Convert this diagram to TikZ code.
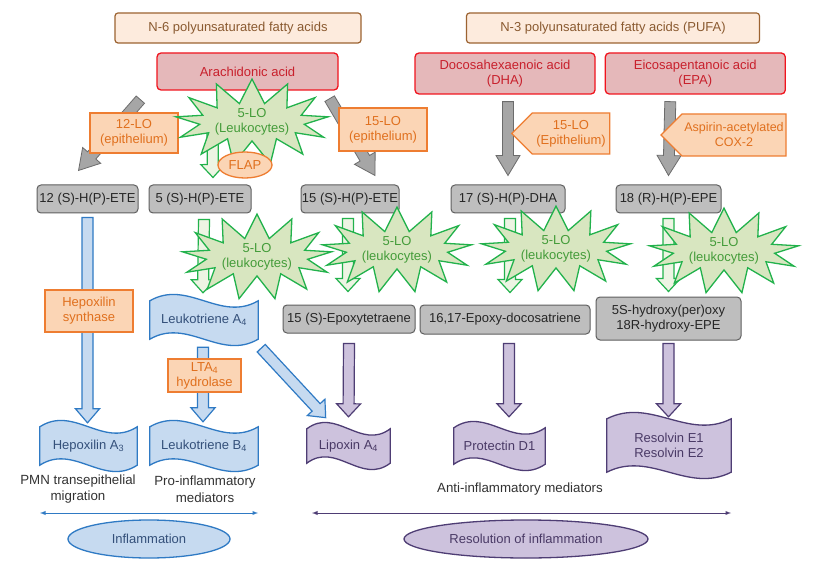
\documentclass[tikz,border=0pt]{standalone}
\usepackage{fontspec}
\setmainfont{Liberation Sans}
\usepackage{tikz}
\usetikzlibrary{positioning, shapes.geometric, shapes.symbols, calc, backgrounds, arrows}
\definecolor{pufaline}{HTML}{9C6331}
\definecolor{pufafill}{HTML}{FDEBDD}
\definecolor{pufatext}{HTML}{8A5A30}
\definecolor{acidline}{HTML}{F0141E}
\definecolor{acidfill}{HTML}{E5B8BA}
\definecolor{acidtext}{HTML}{C8202C}
\definecolor{enzline}{HTML}{EE7D31}
\definecolor{enzfill}{HTML}{FBD5B5}
\definecolor{enztext}{HTML}{E0701E}
\definecolor{loline}{HTML}{22B24C}
\definecolor{lofill}{HTML}{D8E6C0}
\definecolor{lotext}{HTML}{449C3A}
\definecolor{metline}{HTML}{5F5F5F}
\definecolor{metfill}{HTML}{BEBEBE}
\definecolor{proline}{HTML}{2F7AC4}
\definecolor{profill}{HTML}{C6DAF0}
\definecolor{protext}{HTML}{34507A}
\definecolor{resline}{HTML}{4E3D74}
\definecolor{resfill}{HTML}{CDC2DD}
\definecolor{restext}{HTML}{4A3A66}
\definecolor{arrowgray}{HTML}{A6A6A6}
\tikzstyle{pufa}      = [rectangle, rounded corners=3pt, minimum height=30pt, inner sep=0pt, draw=pufaline, fill=pufafill, text=pufatext, line width=1.2pt]
\tikzstyle{acid}      = [rectangle, rounded corners=4pt, inner sep=0pt, align=center, draw=acidline, fill=acidfill, text=acidtext, line width=1.3pt]
\tikzstyle{metab}     = [rectangle, rounded corners=4pt, minimum height=28pt, inner sep=0pt, align=center, draw=metline, fill=metfill, text=black!85, line width=1pt]
\tikzstyle{enzyme}    = [rectangle, inner sep=0pt, align=center, draw=enzline, fill=enzfill, text=enztext, line width=1.3pt]
\tikzstyle{enzsignal} = [signal, signal to=west, signal from=nowhere, inner sep=0pt, align=center, draw=enzline, fill=enzfill, text=enztext, line width=1.3pt]
\tikzstyle{flapnode}  = [ellipse, minimum width=54pt, minimum height=26pt, inner sep=0pt, draw=enzline, fill=enzfill, text=enztext, line width=1.3pt]
\tikzstyle{burst}     = [starburst, starburst points=13, starburst point height=24pt, random starburst=0, minimum width=150pt, minimum height=82pt, inner sep=0pt, align=center, draw=loline, fill=lofill, text=lotext, line width=1.3pt]
\tikzstyle{flagtext}  = [rectangle, inner sep=0pt, align=center]
\tikzstyle{proflag}   = [draw=proline, fill=profill, line width=1.3pt]
\tikzstyle{resflag}   = [draw=resline, fill=resfill, line width=1.3pt]
\tikzstyle{grayarrow} = [draw=arrowgray!65!black, fill=arrowgray, line width=0.8pt]
\tikzstyle{greenarrow}= [draw=loline, fill=lofill!45!white, line width=1.2pt]
\tikzstyle{bluearrow} = [draw=proline, fill=profill, line width=1.2pt]
\tikzstyle{purplearrow}=[draw=resline, fill=resfill, line width=1.2pt]
\tikzstyle{note}      = [align=center, text=black!80, font=\fontsize{13.3}{16.5}\selectfont]
\tikzstyle{phase}     = [ellipse, minimum height=38pt, inner sep=0pt, line width=1.3pt]
% block arrow from #2 to #3, head length #4
\newcommand{\fatarrow}[4]{%
  \path let \p1=(#2), \p2=(#3), \n1={atan2(\y2-\y1,\x2-\x1)}, \n2={veclen(\x2-\x1,\y2-\y1)} in
    \pgfextra{\xdef\faAngle{\n1}\xdef\faLen{\n2}\xdef\faX{\x1}\xdef\faY{\y1}};
  \draw[#1, shift={(\faX,\faY)}, rotate=\faAngle]
    (0,-5.5) -- ({\faLen-#4},-5.5) -- ({\faLen-#4},-12) -- (\faLen,0)
    -- ({\faLen-#4},12) -- ({\faLen-#4},5.5) -- (0,5.5) -- cycle;}
% wave outline behind node #1
\newcommand{\waveflag}[2]{%
  \begin{scope}[on background layer]
    \path (#1.north west) coordinate (w1) (#1.north east) coordinate (w2)
          (#1.south east) coordinate (w3) (#1.south west) coordinate (w4);
    \draw[#2] (w1) .. controls ($(w1)!0.35!(w2)+(0,-22)$) and ($(w1)!0.65!(w2)+(0,22)$) .. (w2)
      -- (w3) .. controls ($(w4)!0.65!(w3)+(0,22)$) and ($(w4)!0.35!(w3)+(0,-22)$) .. (w4) -- cycle;
  \end{scope}}

\begin{document}
\begin{tikzpicture}[x=1pt, y=-1pt, font=\fontsize{13}{15}\selectfont]
            \begin{scope}[on background layer]
              \fill[white] (0,0) rectangle (816,569);
            \end{scope}
            \useasboundingbox (0,0) rectangle (816,569);

            % fatty acids
            \node[pufa, minimum width=246pt] (n6) at (238,28) {N-6 polyunsaturated fatty acids};
            \node[pufa, minimum width=293pt] (n3) at (613,28) {N-3 polyunsaturated fatty acids (PUFA)};
            \node[acid, minimum width=181pt, minimum height=37pt] (aa) at (247.5,71.5) {Arachidonic acid};
            \node[acid, minimum width=180pt, minimum height=41pt] (dha) at (505,73.5) {Docosahexaenoic acid\\(DHA)};
            \node[acid, minimum width=180pt, minimum height=41pt, right=9pt of dha] (epa) {Eicosapentanoic acid\\(EPA)};

            % hydroperoxides
            \node[metab, minimum width=101pt] (h12) at (87.5,199) {12 (S)-H(P)-ETE};
            \node[metab, minimum width=102pt, right=10pt of h12] (h5) {5 (S)-H(P)-ETE};
            \node[metab, minimum width=98pt] (h15) at (350,199) {15 (S)-H(P)-ETE};
            \node[metab, minimum width=114pt] (hdha) at (508,199) {17 (S)-H(P)-DHA};
            \node[metab, minimum width=105pt] (hepe) at (668.5,199) {18 (R)-H(P)-EPE};

            % epoxides
            \node[metab, minimum width=132pt] (epx) at (349,319) {15 (S)-Epoxytetraene};
            \node[metab, minimum width=170pt, minimum height=29pt] (edoc) at (505,319.5) {16,17-Epoxy-docosatriene};
            \node[metab, minimum width=145pt, minimum height=43pt] (hepe2) at (668.5,318.5) {5S-hydroxy(per)oxy\\18R-hydroxy-EPE};

            % mediators
            \node[flagtext, text=protext, minimum width=108pt, minimum height=38pt] (lta4) at (204,320) {Leukotriene A\textsubscript{4}};
            \node[flagtext, text=protext, minimum width=97pt, minimum height=38pt] (hxa3) at (88.5,446) {Hepoxilin A\textsubscript{3}};
            \node[flagtext, text=protext, minimum width=108pt, minimum height=38pt] (ltb4) at (204,446) {Leukotriene B\textsubscript{4}};
            \node[flagtext, text=restext, minimum width=83pt, minimum height=34pt] (lxa4) at (348.5,446) {Lipoxin A\textsubscript{4}};
            \node[flagtext, text=restext, minimum width=91pt, minimum height=36pt] (pd1) at (499.5,446) {Protectin D1};
            \node[flagtext, text=restext, minimum width=124pt, minimum height=53pt] (rve) at (669,445.5) {Resolvin E1\\Resolvin E2};
            \waveflag{lta4}{proflag}
            \waveflag{hxa3}{proflag}
            \waveflag{ltb4}{proflag}
            \waveflag{lxa4}{resflag}
            \waveflag{pd1}{resflag}
            \waveflag{rve}{resflag}

            % conversions
            \fatarrow{grayarrow}{$(aa.south west)+(-16,9)$}{$(h12.north)+(-9,-14)$}{20}
            \fatarrow{grayarrow}{$(aa.south east)+(-9,8)$}{$(h15.north)+(25,-9)$}{20}
            \fatarrow{grayarrow}{$(dha.south)+(3,7)$}{$(hdha.north)+(0,-9)$}{20}
            \fatarrow{grayarrow}{$(epa.south)+(-25,7)$}{$(hepe.north)+(0,-9)$}{20}
            \fatarrow{greenarrow}{$(aa.south)+(-35,40)$}{$(h5.north)+(13,-7)$}{13}
            \fatarrow{greenarrow}{$(h5.south)+(4,6)$}{$(lta4.north)+(-1,-8)$}{13}
            \fatarrow{greenarrow}{$(h15.south)+(-2,5)$}{$(epx.north)+(-1,-13)$}{13}
            \fatarrow{greenarrow}{$(hdha.south)+(2,5)$}{$(edoc.north)+(5,-12)$}{13}
            \fatarrow{greenarrow}{$(hepe.south)+(0,5)$}{$(hepe2.north)+(0,-5)$}{13}
            \fatarrow{bluearrow}{$(h12.south)+(0,4)$}{$(hxa3.north)+(-1,-4)$}{14}
            \fatarrow{bluearrow}{$(lta4.south)+(-1,8)$}{$(ltb4.north)+(-1,-5)$}{14}
            \fatarrow{bluearrow}{$(lta4.south east)+(3,9)$}{$(lxa4.north west)+(19,-11)$}{14}
            \fatarrow{purplearrow}{$(epx.south)+(0,10)$}{$(lxa4.north)+(0,-12)$}{13}
            \fatarrow{purplearrow}{$(edoc.south)+(4,9)$}{$(pd1.north)+(9.5,-11)$}{13}
            \fatarrow{purplearrow}{$(hepe2.south)+(0,3)$}{$(rve.north)+(-0.5,-2)$}{13}

            % enzymes
            \node[enzyme, minimum width=88pt, minimum height=40pt] (lo12) at (134,133) {12-LO\\(epithelium)};
            \node[enzyme, minimum width=88pt, minimum height=43pt] (lo15) at (383,129.5) {15-LO\\(epithelium)};
            \node[enzsignal, minimum width=98pt, minimum height=41pt] (lo15e) at (571,133.5) {15-LO\\(Epithelium)};
            \node[enzsignal, minimum width=125pt, minimum height=42pt, font=\fontsize{12.5}{15}\selectfont] (cox2) at (734,135) {Aspirin-acetylated\\COX-2};
            \node[enzyme, minimum width=88pt, minimum height=42pt] (hxs) at (89,311) {Hepoxilin\\synthase};
            \node[enzyme, minimum width=73pt, minimum height=33pt] (ltah) at (204.5,375.5) {LTA\textsubscript{4}\\hydrolase};

            % 5-LO
            \node[burst, shape border rotate=4] (lo5) at (252,122) {5-LO\\(Leukocytes)};
            \node[flapnode] (flap) at (245,165) {FLAP};
            \node[burst, shape border rotate=-6] (lo5a) at (257,257) {5-LO\\(leukocytes)};
            \node[burst, shape border rotate=9] (lo5b) at (397,250) {5-LO\\(leukocytes)};
            \node[burst, shape border rotate=-3] (lo5c) at (556,249) {5-LO\\(leukocytes)};
            \node[burst, shape border rotate=7] (lo5d) at (724,251) {5-LO\\(leukocytes)};

            % outcome
            \node[note] (pmn) at (78,489) {PMN transepithelial\\migration};
            \node[note] (pim) at (205,489) {Pro-inflammatory\\mediators};
            \node[note] (aim) at (520,489) {Anti-inflammatory mediators};
            \coordinate (inf w) at (40,513);
            \coordinate (inf e) at (258,513);
            \coordinate (res w) at (312,513);
            \coordinate (res e) at (731,513);
            \draw[latex-latex, draw=proline, line width=0.9pt] (inf w) -- (inf e);
            \draw[latex-latex, draw=resline, line width=0.9pt] (res w) -- (res e);
            \node[phase, draw=proline, fill=profill, text=protext, minimum width=162pt] (infl) at (149,539) {Inflammation};
            \node[phase, draw=resline, fill=resfill, text=restext, minimum width=244pt] (reso) at (526,539) {Resolution of inflammation};
        \end{tikzpicture}
\end{document}
